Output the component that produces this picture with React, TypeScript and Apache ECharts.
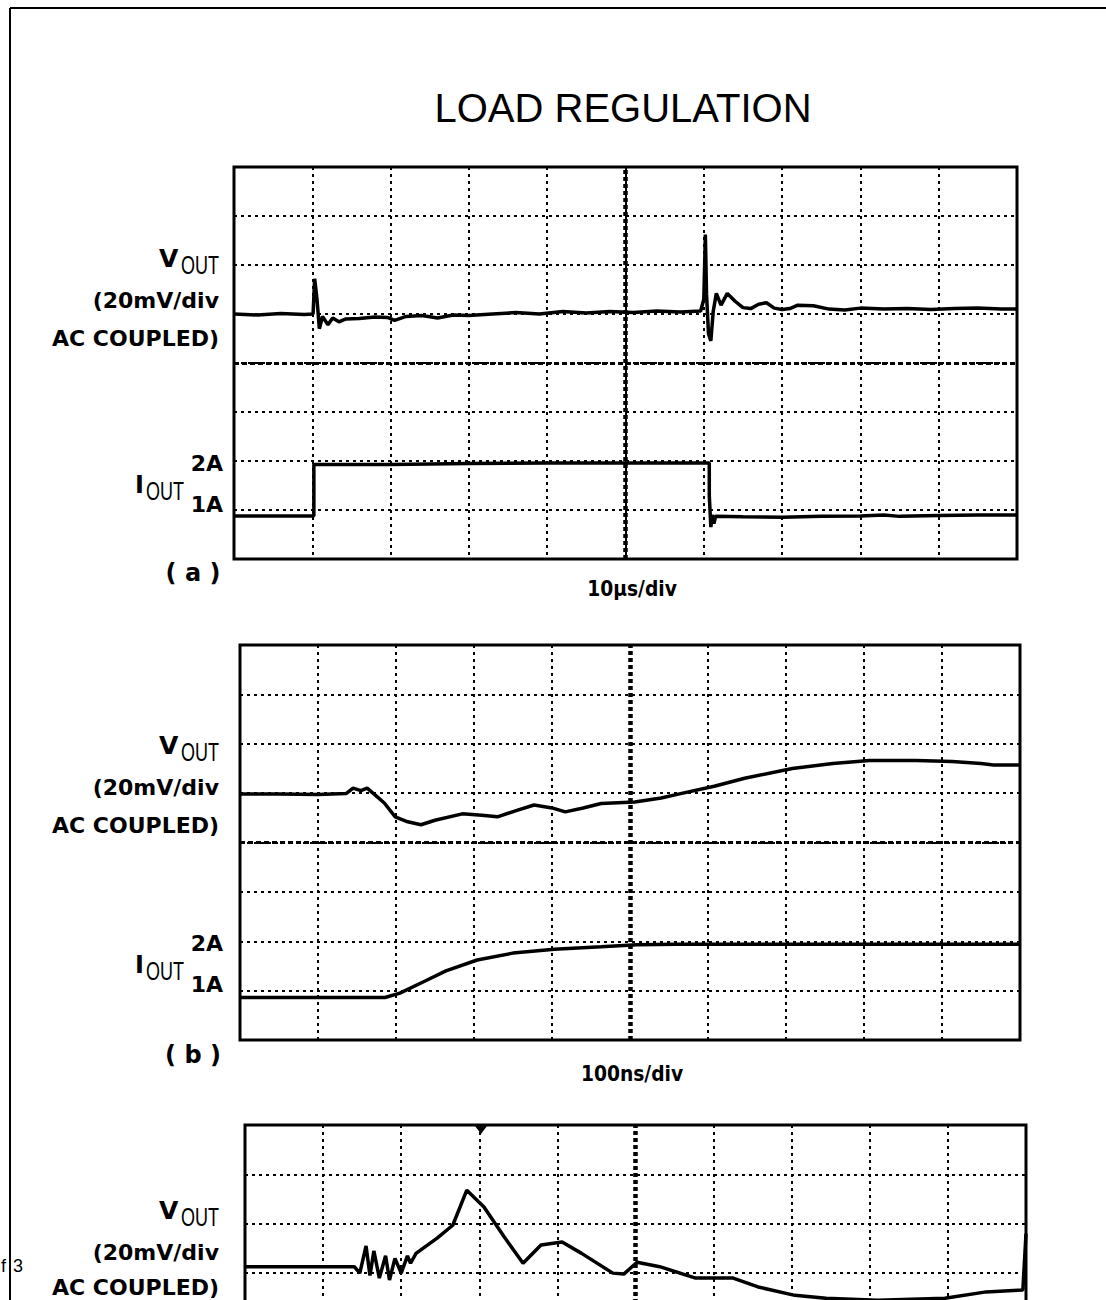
import React, { useEffect, useRef } from "react";
import * as echarts from "echarts";

const TITLE = "LOAD REGULATION";
const V_LABEL_LINES = ["(20mV/div", "AC COUPLED)"];
const I_LEVELS = ["2A", "1A"];
const TIMEBASE_A = "10µs/div";
const TIMEBASE_B = "100ns/div";

// Panel (a): x in µs (0..100), y in divisions (0..8)
const vOutA: [number, number][] = [
  [0, 5.0], [3, 4.98], [6, 5.01], [9, 4.99], [10.1, 5.0], [10.3, 5.72], [10.6, 5.3], [10.9, 4.7],
  [11.3, 4.95], [12.0, 4.78], [12.6, 4.92], [13.4, 4.84], [14.3, 4.9], [16, 4.91], [18, 4.94],
  [19.6, 4.93], [20.5, 4.87], [22, 4.95], [24, 4.97], [26, 4.92], [28, 4.98], [30, 4.97],
  [33, 5.0], [36, 5.03], [39, 5.0], [42, 5.05], [45, 5.02], [48, 5.05], [51, 5.03], [54, 5.06],
  [57, 5.04], [59.6, 5.06], [60.0, 5.3], [60.2, 6.62], [60.35, 5.4], [60.6, 4.6], [60.9, 4.45],
  [61.2, 5.05], [61.6, 5.42], [62.2, 5.18], [63.0, 5.42], [64, 5.26], [65, 5.13], [66, 5.11],
  [67, 5.2], [68, 5.23], [69, 5.12], [70, 5.09], [71, 5.11], [72, 5.18], [74, 5.17], [76, 5.1],
  [78, 5.08], [80, 5.12], [83, 5.1], [86, 5.11], [89, 5.09], [92, 5.11], [95, 5.12], [98, 5.1], [100, 5.1],
];
const iOutA: [number, number][] = [
  [0, 0.88], [10.2, 0.88], [10.2, 1.93], [20, 1.93], [30, 1.95], [40, 1.96], [50, 1.96], [60, 1.96],
  [60.7, 1.96], [60.7, 1.3], [60.9, 0.65], [61.1, 0.9], [61.3, 0.72], [61.5, 0.87], [65, 0.86],
  [70, 0.85], [75, 0.87], [80, 0.88], [83, 0.9], [85, 0.87], [90, 0.89], [95, 0.9], [100, 0.9],
];

// Panel (b): x in ns (0..1000)
const vOutB: [number, number][] = [
  [0, 4.98], [50, 4.98], [100, 4.97], [136, 4.99], [145, 5.1], [155, 5.05], [163, 5.1], [172, 4.98],
  [185, 4.8], [199, 4.52], [215, 4.42], [232, 4.36], [250, 4.45], [285, 4.58], [310, 4.55],
  [330, 4.52], [355, 4.65], [377, 4.76], [400, 4.7], [417, 4.62], [440, 4.7], [463, 4.79],
  [506, 4.82], [540, 4.9], [562, 4.98], [608, 5.14], [647, 5.3], [708, 5.5], [760, 5.6],
  [807, 5.66], [867, 5.66], [913, 5.64], [950, 5.6], [966, 5.57], [1000, 5.57],
];
const iOutB: [number, number][] = [
  [0, 0.86], [100, 0.86], [186, 0.86], [205, 0.95], [238, 1.2], [264, 1.4], [304, 1.62],
  [350, 1.76], [403, 1.84], [463, 1.89], [509, 1.93], [560, 1.94], [1000, 1.94],
];

// Panel (c): x in divisions (0..10)
const vOutC: [number, number][] = [
  [0, 5.13], [1.4, 5.13], [1.47, 5.0], [1.55, 5.55], [1.6, 4.95], [1.65, 5.45], [1.72, 4.9],
  [1.8, 5.35], [1.85, 4.86], [1.92, 5.3], [2.0, 5.0], [2.08, 5.35], [2.12, 5.2], [2.19, 5.4],
  [2.46, 5.71], [2.66, 5.97], [2.84, 6.68], [3.06, 6.34], [3.32, 5.73], [3.56, 5.2], [3.79, 5.57],
  [4.06, 5.63], [4.31, 5.4], [4.71, 5.0], [4.85, 4.98], [5.02, 5.22], [5.31, 5.13], [5.77, 4.9],
  [6.25, 4.9], [6.57, 4.72], [7.04, 4.55], [7.44, 4.49], [8.1, 4.45], [8.96, 4.49], [9.49, 4.62],
  [9.96, 4.66], [10, 5.8],
];

const BLACK = "#000";

function axisPair(gridIndex: number, xMax: number, xInterval: number) {
  const common = {
    axisLine: { show: false },
    axisTick: { show: false },
    axisLabel: { show: false },
    splitLine: { show: true, lineStyle: { color: BLACK, width: 2, type: [3, 4] } },
  };
  return {
    x: { type: "value", gridIndex, min: 0, max: xMax, interval: xInterval, ...common },
    y: { type: "value", gridIndex, min: 0, max: 8, interval: 1, ...common },
  };
}

function trace(name: string, idx: number, data: [number, number][], xCenter?: number) {
  const s: any = {
    name,
    type: "line",
    xAxisIndex: idx,
    yAxisIndex: idx,
    data,
    showSymbol: false,
    symbol: "none",
    lineStyle: { color: BLACK, width: 3.5 },
    z: 5,
  };
  if (xCenter !== undefined) {
    s.markLine = {
      silent: true,
      symbol: "none",
      label: { show: false },
      data: [
        { xAxis: xCenter, lineStyle: { color: BLACK, width: 4.5, type: [4, 3] } },
        { yAxis: 4, lineStyle: { color: BLACK, width: 3, type: [5, 3] } },
      ],
    };
  }
  return s;
}

function txt(text: string, x: number, y: number, font: string, align = "right", scaleX = 1): any {
  return {
    type: "text",
    x,
    y,
    scaleX,
    style: { text, font, fill: BLACK, align, verticalAlign: "middle" },
    silent: true,
  };
}

const BOLD = 'bold 22px "DejaVu Sans"';
const SUB = '25px "Liberation Sans"';

function vLabels(dy: number, lastShift = 0): any[] {
  return [
    txt("V", 159, 258 + dy, 'bold 25px "DejaVu Sans"', "left"),
    txt("OUT", 219, 265 + dy, SUB, "right", 0.72),
    txt(V_LABEL_LINES[0], 219, 300 + dy, BOLD),
    txt(V_LABEL_LINES[1], 219, 338 + dy + lastShift, BOLD),
  ];
}

function iLabels(dy: number): any[] {
  return [
    txt(I_LEVELS[0], 223, 463 + dy, BOLD),
    txt("I", 135, 485 + dy, 'bold 24px "DejaVu Sans"', "left"),
    txt("OUT", 184, 491 + dy, SUB, "right", 0.72),
    txt(I_LEVELS[1], 223, 504 + dy, BOLD),
  ];
}

export default function App() {
  const ref = useRef<HTMLDivElement>(null);
  useEffect(() => {
    if (!ref.current) return;
    const chart = echarts.init(ref.current, null, { renderer: "svg" });
    const a = axisPair(0, 100, 10);
    const b = axisPair(1, 1000, 100);
    const c = axisPair(2, 10, 1);
    const gridBase = { show: true, borderColor: BLACK, borderWidth: 3, backgroundColor: "transparent" };
    chart.setOption({
      animation: false,
      backgroundColor: "#fff",
      grid: [
        { ...gridBase, left: 234, top: 167, width: 783, height: 392 },
        { ...gridBase, left: 240, top: 645, width: 780, height: 395 },
        { ...gridBase, left: 245, top: 1125, width: 781, height: 395 },
      ],
      xAxis: [a.x, b.x, c.x],
      yAxis: [a.y, b.y, c.y],
      series: [
        trace("VOUT (a)", 0, vOutA, 50),
        trace("IOUT (a)", 0, iOutA),
        trace("VOUT (b)", 1, vOutB, 500),
        trace("IOUT (b)", 1, iOutB),
        trace("VOUT (c)", 2, vOutC, 5),
      ],
      graphic: [
        { type: "line", shape: { x1: 10, y1: 8, x2: 1106, y2: 8 }, style: { stroke: BLACK, lineWidth: 2 }, silent: true },
        { type: "line", shape: { x1: 10, y1: 8, x2: 10, y2: 1600 }, style: { stroke: BLACK, lineWidth: 2 }, silent: true },
        txt(TITLE, 623, 108, '40px "Liberation Sans"', "center"),
        ...vLabels(0),
        ...iLabels(0),
        txt("( a )", 193, 573, 'bold 24px "DejaVu Sans"', "center"),
        txt(TIMEBASE_A, 632, 588, BOLD, "center", 0.85),
        ...vLabels(487),
        ...iLabels(480),
        txt("( b )", 193, 1055, 'bold 24px "DejaVu Sans"', "center"),
        txt(TIMEBASE_B, 632, 1073, BOLD, "center", 0.85),
        ...vLabels(952, -3),
        txt("f", 1, 1266, '18px "Liberation Sans"', "left"),
        txt("3", 13, 1266, '18px "Liberation Sans"', "left"),
        { type: "polygon", shape: { points: [[475, 1126], [487, 1126], [481, 1134]] }, style: { fill: BLACK }, silent: true },
      ],
    });
    return () => chart.dispose();
  }, []);
  return (
    <div style={{ position: "absolute", left: 0, top: 0, width: 1106, height: 1300, overflow: "hidden", background: "#fff" }}>
      <div ref={ref} style={{ width: 1106, height: 1560 }} />
    </div>
  );
}
